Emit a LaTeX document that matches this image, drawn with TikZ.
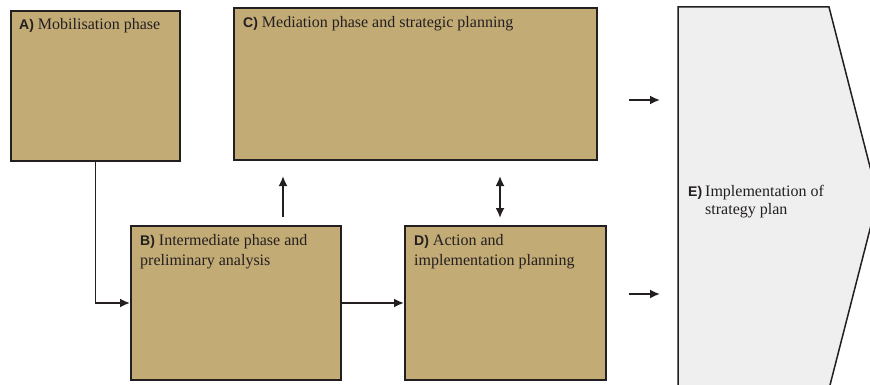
\documentclass[tikz,border=0pt]{standalone}
\usepackage{fontspec}
\setmainfont{Liberation Serif}
\setsansfont{Liberation Sans}
\usetikzlibrary{arrows.meta}
\definecolor{boxtan}{RGB}{195,171,117}
\definecolor{edgedark}{RGB}{35,31,32}
\definecolor{elight}{RGB}{239,239,239}
\newcommand{\lbl}[1]{{\sffamily\bfseries\fontsize{14}{14}\selectfont #1}}
\begin{document}
\begin{tikzpicture}[x=1pt,y=-1pt,
  box/.style={draw=edgedark,line width=2pt,fill=boxtan,anchor=north west,inner sep=0pt},
  txt/.style={anchor=base west,inner sep=0pt,font=\fontsize{16}{20}\selectfont,text=edgedark},
  conn/.style={draw=edgedark,line width=1.8pt,-{Latex[length=10pt,width=9pt]}},
  conn2/.style={draw=edgedark,line width=1.8pt,{Latex[length=10pt,width=9pt]}-{Latex[length=10pt,width=9pt]}}]
\clip (0,0) rectangle (870,385);
\fill[white] (0,0) rectangle (870,385);
% E shape
\path[draw=edgedark,line width=1.5pt,fill=elight] (678,7) -- (829,7) -- (878,198) -- (829,389) -- (678,389) -- cycle;
% boxes
\node[box,minimum width=169pt,minimum height=150pt] (A) at (10,10) {};
\node[box,minimum width=363pt,minimum height=152pt] (C) at (233,7) {};
\node[box,minimum width=210pt,minimum height=154pt] (B) at (130,225) {};
\node[box,minimum width=201pt,minimum height=154pt] (D) at (404,225) {};
% texts
\node[txt] (At) at (19,30) {\lbl{A)} Mobilisation phase};
\node[txt] (Ct) at (243,28) {\lbl{C)} Mediation phase and strategic planning};
\node[txt] (Bt) at (140,245) {\begin{tabular}[t]{@{}l@{}}\lbl{B)} Intermediate phase and\\preliminary analysis\end{tabular}};
\node[txt] (Dt) at (414,245) {\begin{tabular}[t]{@{}l@{}}\lbl{D)} Action and\\implementation planning\end{tabular}};
\node[txt,font=\fontsize{16}{18.5}\selectfont] (Et) at (688,196) {\begin{tabular}[t]{@{}l@{\hspace{3pt}}l@{}}\lbl{E)} & Implementation of\\ & strategy plan\end{tabular}};
% connectors
\draw[conn] (A.south) |- (B.west);
\draw[conn] (B.east) -- (D.west);
\coordinate (bcS) at (283,217);
\coordinate (bcE) at (283,176);
\draw[conn] (bcS) -- (bcE);
\coordinate (cdT) at (500,176);
\coordinate (cdB) at (500,218);
\draw[conn2] (cdT) -- (cdB);
\coordinate (e1s) at (629,100);
\coordinate (e1e) at (660,100);
\draw[conn] (e1s) -- (e1e);
\coordinate (e2s) at (629,294);
\coordinate (e2e) at (660,294);
\draw[conn] (e2s) -- (e2e);
\end{tikzpicture}
\end{document}
